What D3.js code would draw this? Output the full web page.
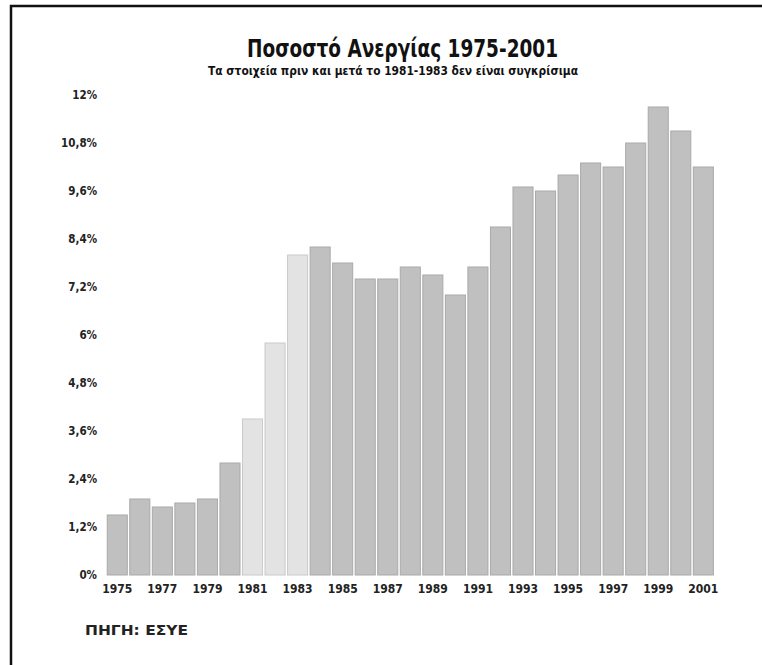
<!DOCTYPE html>
<html>
<head>
<meta charset="utf-8">
<script src="https://cdn.jsdelivr.net/npm/d3@7"></script>
<style>
  html, body { margin: 0; padding: 0; background: #fff; }
  svg { display: block; }
</style>
</head>
<body>
<svg id="chart" width="762" height="665"></svg>
<script>
const years = [1975,1976,1977,1978,1979,1980,1981,1982,1983,1984,1985,1986,1987,1988,1989,1990,1991,1992,1993,1994,1995,1996,1997,1998,1999,2000,2001];
const unemployment = [1.5,1.9,1.7,1.8,1.9,2.8,3.9,5.8,8.0,8.2,7.8,7.4,7.4,7.7,7.5,7.0,7.7,8.7,9.7,9.6,10.0,10.3,10.2,10.8,11.7,11.1,10.2];
const nonComparableYears = [1981,1982,1983];
const yTicks = [0,1.2,2.4,3.6,4.8,6,7.2,8.4,9.6,10.8,12];
const xTickYears = years.filter(y => y % 2 === 1);
const titleText = "Ποσοστό Ανεργίας 1975-2001";
const subtitleText = "Τα στοιχεία πριν και μετά το 1981-1983 δεν είναι συγκρίσιμα";
const sourceText = "ΠΗΓΗ: ΕΣΥΕ";

const svg = d3.select("#chart");

// frame
svg.append("rect")
  .attr("x", 11).attr("y", 6)
  .attr("width", 800).attr("height", 700)
  .attr("fill", "none").attr("stroke", "#111").attr("stroke-width", 2.5);

const x = d3.scaleBand().domain(years).range([106, 714.6]).paddingInner(0.11).paddingOuter(0.055);
const y = d3.scaleLinear().domain([0, 12]).range([575, 95]);

const data = years.map((yr, i) => ({ year: yr, value: unemployment[i] }));

svg.append("g").selectAll("rect").data(data).join("rect")
  .attr("x", d => x(d.year))
  .attr("y", d => y(d.value))
  .attr("width", x.bandwidth())
  .attr("height", d => y(0) - y(d.value))
  .attr("fill", d => nonComparableYears.includes(d.year) ? "#e3e3e3" : "#c0c0c0")
  .attr("stroke", d => nonComparableYears.includes(d.year) ? "#c9c9c9" : "#a9a9a9")
  .attr("stroke-width", 1);

const fmt = d => (Math.round(d * 10) / 10).toString().replace(".", ",") + "%";

const yAxis = svg.append("g")
  .attr("transform", "translate(97,0)")
  .call(d3.axisLeft(y).tickValues(yTicks).tickFormat(fmt).tickSize(0).tickPadding(0));
yAxis.select(".domain").remove();
yAxis.selectAll("text")
  .attr("font-family", "'DejaVu Sans Condensed', 'DejaVu Sans', sans-serif")
  .attr("font-weight", "bold")
  .attr("font-size", 11.5)
  .attr("fill", "#222");

const xAxis = svg.append("g")
  .attr("transform", "translate(0,580)")
  .call(d3.axisBottom(x).tickValues(xTickYears).tickSize(0).tickPadding(4));
xAxis.select(".domain").remove();
xAxis.selectAll("text")
  .attr("font-family", "'DejaVu Sans Condensed', 'DejaVu Sans', sans-serif")
  .attr("font-weight", "bold")
  .attr("font-size", 12)
  .attr("fill", "#222");

svg.append("text")
  .attr("x", 247).attr("y", 57)
  .attr("font-family", "'DejaVu Sans Condensed', sans-serif")
  .attr("font-weight", "bold")
  .attr("font-size", 24)
  .attr("textLength", 311)
  .attr("lengthAdjust", "spacingAndGlyphs")
  .attr("fill", "#111")
  .text(titleText);

svg.append("text")
  .attr("x", 208).attr("y", 75)
  .attr("font-family", "'DejaVu Sans Condensed', sans-serif")
  .attr("font-weight", "bold")
  .attr("font-size", 12.5)
  .attr("textLength", 370)
  .attr("lengthAdjust", "spacingAndGlyphs")
  .attr("fill", "#111")
  .text(subtitleText);

svg.append("text")
  .attr("x", 85).attr("y", 635)
  .attr("font-family", "'DejaVu Sans Condensed', sans-serif")
  .attr("font-weight", "bold")
  .attr("font-size", 13.5)
  .attr("textLength", 103)
  .attr("lengthAdjust", "spacingAndGlyphs")
  .attr("fill", "#222")
  .text(sourceText);
</script>
</body>
</html>
